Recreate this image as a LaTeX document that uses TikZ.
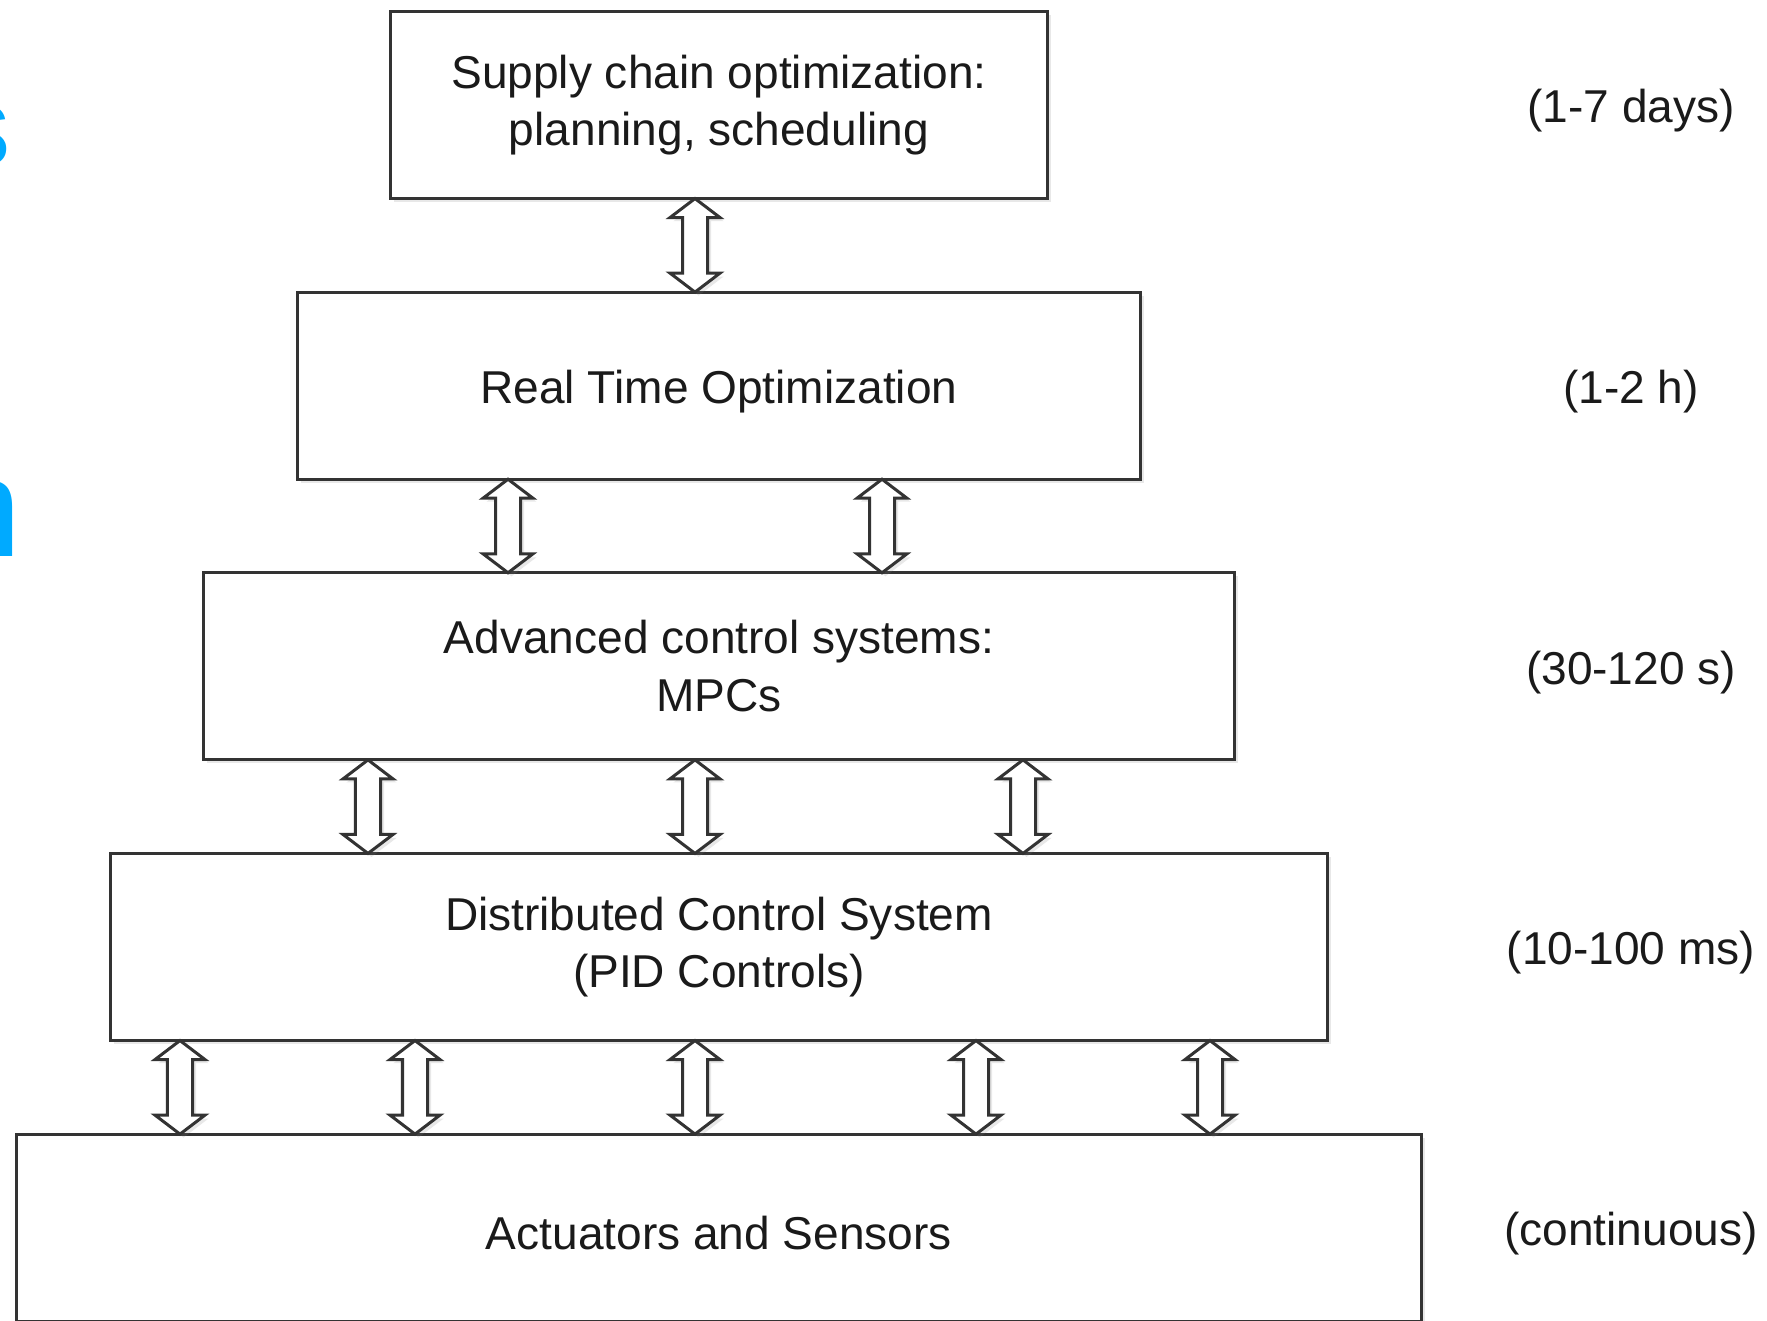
\documentclass[tikz,border=0pt]{standalone}
\usepackage{fontspec}
\setmainfont{Liberation Sans}
\usepackage{tikz}
\usetikzlibrary{shadows, calc, positioning}
\definecolor{framegray}{HTML}{333333}
\definecolor{textgray}{HTML}{1A1A1A}
\definecolor{slideblue}{HTML}{00AAFF}
\tikzstyle{level} = [rectangle, draw=framegray, line width=0.03cm, fill=white, minimum height=1.87cm, outer sep=0pt, inner sep=0pt, align=center, text=textgray, font=\fontsize{13.1}{16.4}\selectfont, execute at begin node={\rule{0pt}{12.6pt}}, drop shadow={opacity=0.18, shadow xshift=0.035cm, shadow yshift=-0.035cm}]
\tikzstyle{period} = [text=textgray, inner sep=0pt, font=\fontsize{13.1}{16.4}\selectfont, execute at begin node={\rule{0pt}{12.8pt}}]
\tikzstyle{link} = [draw=framegray, line width=0.03cm, fill=white, line join=miter, drop shadow={opacity=0.18, shadow xshift=0.035cm, shadow yshift=-0.035cm}]
\tikzstyle{fragment} = [text=slideblue, inner sep=0pt, anchor=base east]
% hollow up/down arrow between two levels: #1 x position, #2 upper box, #3 lower box
\newcommand{\updown}[3]{%
	\draw[link] let \p1 = (#1,0), \p2 = (#2.south), \p3 = (#3.north) in
		(\x1,\y2) -- (\x1-0.25cm,\y2-0.19cm) -- (\x1-0.125cm,\y2-0.19cm) -- (\x1-0.125cm,\y3+0.19cm)
		-- (\x1-0.25cm,\y3+0.19cm) -- (\x1,\y3) -- (\x1+0.25cm,\y3+0.19cm) -- (\x1+0.125cm,\y3+0.19cm)
		-- (\x1+0.125cm,\y2-0.19cm) -- (\x1+0.25cm,\y2-0.19cm) -- cycle;
}

\begin{document}
\begin{tikzpicture}[x=0.01cm, y=-0.01cm, node distance=0.935cm]
	\useasboundingbox (0,0) rectangle (1767,1320);
	\clip (0,0) rectangle (1767,1320);
	% cut-off letters at the left edge
	\node (FragS) [fragment, font=\fontsize{32}{36}\selectfont] at (11,165) {s};
	\node (FragN) [fragment, font=\fontsize{40}{44}\selectfont] at (22,556) {n};
	% levels
	\node (Supply) [level, minimum width=6.56cm] at (719,105) {Supply chain optimization:\\planning, scheduling};
	\node (RTO) [level, minimum width=8.43cm, below = of Supply] {Real Time Optimization};
	\node (MPC) [level, minimum width=10.30cm, below = of RTO] {Advanced control systems:\\MPCs};
	\node (DCS) [level, minimum width=12.17cm, below = of MPC] {Distributed Control System\\(PID Controls)};
	\node (Field) [level, minimum width=14.04cm, below = of DCS] {Actuators and Sensors};
	% links
	\foreach \xpos in {695} {\updown{\xpos}{Supply}{RTO}}
	\foreach \xpos in {508, 882} {\updown{\xpos}{RTO}{MPC}}
	\foreach \xpos in {368, 695, 1023} {\updown{\xpos}{MPC}{DCS}}
	\foreach \xpos in {180, 415, 695, 976, 1210} {\updown{\xpos}{DCS}{Field}}
	% time scales
	\coordinate (PeriodCol) at (1631,0);
	\node (Days) [period] at (PeriodCol |- Supply) {(1-7 days)};
	\node (Hours) [period] at (PeriodCol |- RTO) {(1-2 h)};
	\node (Seconds) [period] at (PeriodCol |- MPC) {(30-120 s)};
	\node (Millis) [period] at (PeriodCol |- DCS) {(10-100 ms)};
	\node (Cont) [period] at (PeriodCol |- Field) {(continuous)};
\end{tikzpicture}
\end{document}
